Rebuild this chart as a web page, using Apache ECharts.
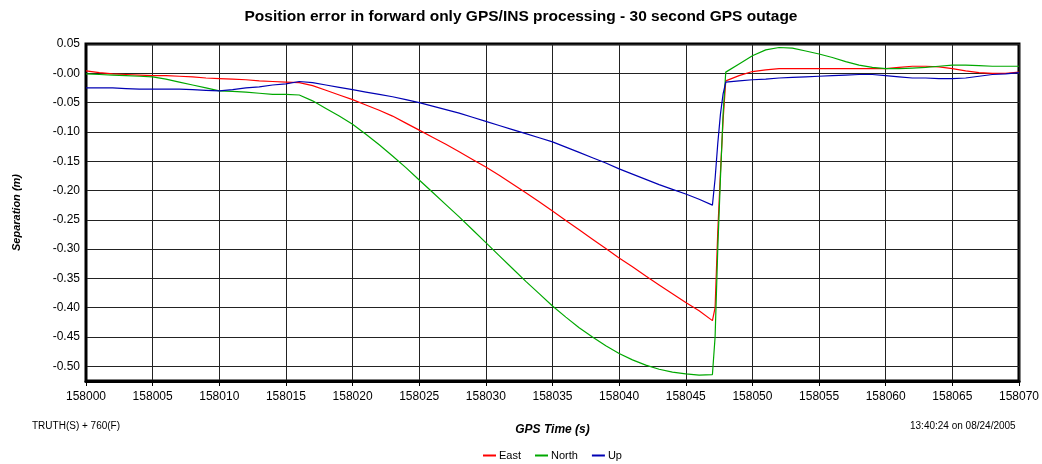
<!DOCTYPE html>
<html>
<head>
<meta charset="utf-8">
<title>Position error - GPS outage</title>
<script src="https://cdn.jsdelivr.net/npm/echarts@6/dist/echarts.min.js"></script>
<style>
  html, body { margin: 0; padding: 0; background: #fff; }
  #chart { width: 1042px; height: 464px; }
</style>
</head>
<body>
<div id="chart"></div>
<script>
// GPS time (s), 1 s steps with a few extra samples through the jump at 158047
const times = [
  158000, 158001, 158002, 158003, 158004, 158005, 158006, 158007, 158008, 158009,
  158010, 158011, 158012, 158013, 158014, 158015, 158016, 158017, 158018, 158019,
  158020, 158021, 158022, 158023, 158024, 158025, 158026, 158027, 158028, 158029,
  158030, 158031, 158032, 158033, 158034, 158035, 158036, 158037, 158038, 158039,
  158040, 158041, 158042, 158043, 158044, 158045, 158046, 158047,
  158047.2, 158047.4, 158047.6, 158047.8,
  158048, 158049, 158050, 158051, 158052, 158053, 158054, 158055, 158056, 158057,
  158058, 158059, 158060, 158061, 158062, 158063, 158064, 158065, 158066, 158067,
  158068, 158069, 158070
]

const east = [
  0.004, 0.001, -0.001, -0.002, -0.003, -0.004, -0.004, -0.005, -0.006, -0.008,
  -0.009, -0.010, -0.011, -0.013, -0.014, -0.015, -0.016, -0.021, -0.029, -0.037,
  -0.045, -0.054, -0.063, -0.073, -0.085, -0.097, -0.109, -0.121, -0.134, -0.147,
  -0.160, -0.174, -0.189, -0.204, -0.219, -0.235, -0.251, -0.267, -0.283, -0.299,
  -0.315, -0.330, -0.346, -0.361, -0.376, -0.391, -0.405, -0.422,
  -0.400, -0.270, -0.170, -0.080,
  -0.013, -0.004, 0.003, 0.006, 0.008, 0.008, 0.008, 0.008, 0.008, 0.008,
  0.008, 0.008, 0.008, 0.010, 0.012, 0.012, 0.011, 0.008, 0.004, 0.001,
  0.000, 0.000, 0.002
]

const north = [
  -0.001, -0.002, -0.003, -0.004, -0.005, -0.006, -0.010, -0.015, -0.020, -0.025,
  -0.030, -0.031, -0.032, -0.034, -0.036, -0.036, -0.037, -0.047, -0.060, -0.073,
  -0.087, -0.104, -0.122, -0.141, -0.161, -0.182, -0.203, -0.224, -0.245, -0.267,
  -0.289, -0.311, -0.333, -0.355, -0.376, -0.397, -0.416, -0.434, -0.450, -0.465,
  -0.478, -0.489, -0.498, -0.505, -0.510, -0.513, -0.515, -0.514,
  -0.450, -0.300, -0.180, -0.070,
  0.002, 0.016, 0.030, 0.040, 0.044, 0.043, 0.038, 0.033, 0.027, 0.020,
  0.014, 0.010, 0.008, 0.008, 0.009, 0.010, 0.012, 0.014, 0.014, 0.013,
  0.012, 0.012, 0.012
]

const up = [
  -0.025, -0.025, -0.025, -0.026, -0.027, -0.027, -0.027, -0.027, -0.028, -0.029,
  -0.030, -0.028, -0.025, -0.023, -0.020, -0.018, -0.014, -0.016, -0.020, -0.024,
  -0.028, -0.032, -0.036, -0.040, -0.045, -0.050, -0.056, -0.062, -0.068, -0.075,
  -0.082, -0.089, -0.096, -0.103, -0.110, -0.117, -0.126, -0.135, -0.144, -0.153,
  -0.163, -0.172, -0.181, -0.190, -0.198, -0.206, -0.215, -0.225,
  -0.180, -0.120, -0.070, -0.035,
  -0.015, -0.013, -0.011, -0.010, -0.008, -0.007, -0.006, -0.005, -0.004, -0.003,
  -0.002, -0.002, -0.004, -0.006, -0.008, -0.008, -0.009, -0.009, -0.008, -0.005,
  -0.002, -0.001, 0.001
]

const seriesNames = ['East', 'North', 'Up']
const seriesColors = ['#ff0000', '#00a800', '#0000b4']

const chart = echarts.init(document.getElementById('chart'))
const FONT = '"Liberation Sans", Arial, sans-serif'

function pairs(vals) {
  return times.map((t, i) => [t, vals[i]])
}

// y labels every 0.05, ticks every 0.025 so min stays on the tick grid
function yLabel(v) {
  const k = Math.round(v * 1000)
  if (k % 50 !== 0) return ''
  if (k > 0) return (k / 1000).toFixed(2)
  return '-' + Math.abs(k / 1000).toFixed(2)
}

const option = {
  backgroundColor: '#fff',
  animation: false,
  textStyle: { fontFamily: FONT },
  title: {
    text: 'Position error in forward only GPS/INS processing - 30 second GPS outage',
    left: 'center',
    top: 4,
    textStyle: { fontFamily: FONT, fontSize: 15.5, fontWeight: 'bold', color: '#000' }
  },
  legend: {
    data: seriesNames,
    top: 445,
    left: 478,
    icon: 'rect',
    itemWidth: 13,
    itemHeight: 2,
    itemGap: 14,
    textStyle: { fontFamily: FONT, fontSize: 11, color: '#000', padding: [0, 0, 0, -2] }
  },
  graphic: [
    {
      type: 'text', left: 32, top: 421,
      style: { text: 'TRUTH(S) + 760(F)', font: '10px ' + FONT, fill: '#000' }
    },
    {
      type: 'text', left: 910, top: 421,
      style: { text: '13:40:24 on 08/24/2005', font: '10px ' + FONT, fill: '#000' }
    }
  ],
  grid: {
    left: 86,
    right: 22,
    top: 44,
    bottom: 83,
    show: true,
    borderColor: '#000',
    borderWidth: 3
  },
  xAxis: {
    type: 'value',
    min: 158000,
    max: 158070,
    interval: 5,
    name: 'GPS Time (s)',
    nameLocation: 'middle',
    nameGap: 43,
    nameTextStyle: { fontFamily: FONT, fontSize: 12, fontWeight: 'bold', fontStyle: 'italic', color: '#000' },
    axisLine: { show: true, onZero: false, lineStyle: { color: '#000', width: 3 } },
    axisTick: { show: true, length: 5, lineStyle: { color: '#000' } },
    axisLabel: { color: '#000', fontSize: 12, margin: 10, formatter: v => String(v) },
    splitLine: { show: true, lineStyle: { color: '#222', width: 1 } }
  },
  yAxis: {
    type: 'value',
    min: -0.525,
    max: 0.05,
    interval: 0.025,
    name: 'Separation (m)',
    nameLocation: 'middle',
    nameGap: 64,
    nameTextStyle: { fontFamily: FONT, fontSize: 11, fontWeight: 'bold', fontStyle: 'italic', color: '#000' },
    axisLine: { show: true, onZero: false, lineStyle: { color: '#000', width: 2 } },
    axisTick: { show: false },
    axisLabel: { color: '#000', fontSize: 12, margin: 6, formatter: yLabel },
    splitLine: { show: true, lineStyle: { color: ['rgba(0,0,0,0)', '#222'], width: 1 } }
  },
  series: seriesNames.map((name, i) => ({
    name: name,
    type: 'line',
    data: pairs([east, north, up][i]),
    showSymbol: false,
    symbol: 'none',
    lineStyle: { color: seriesColors[i], width: 1.2 },
    itemStyle: { color: seriesColors[i] }
  }))
}

chart.setOption(option)
</script>
</body>
</html>
